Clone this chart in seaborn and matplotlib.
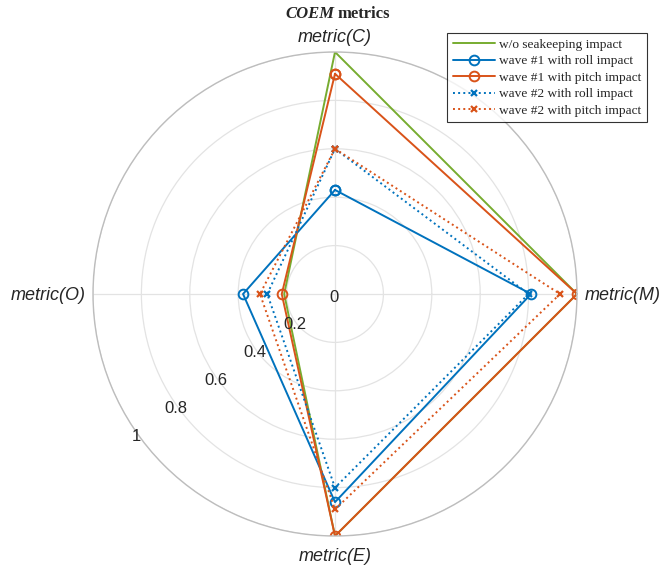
import numpy as np
import pandas as pd
import matplotlib
matplotlib.use("Agg")
import matplotlib.pyplot as plt
import matplotlib.transforms as mtransforms
import seaborn as sns

# ---- data ----
categories = ["metric(C)", "metric(M)", "metric(E)", "metric(O)"]
angles_deg = [90, 0, 270, 180]
series_names = ["w/o seakeeping impact", "wave #1 with roll impact",
                "wave #1 with pitch impact", "wave #2 with roll impact",
                "wave #2 with pitch impact"]
wo_seakeeping = [1.00, 1.00, 1.00, 0.21]
wave1_roll = [0.43, 0.81, 0.86, 0.38]
wave1_pitch = [0.91, 1.00, 1.00, 0.22]
wave2_roll = [0.60, 0.80, 0.80, 0.28]
wave2_pitch = [0.60, 0.93, 0.89, 0.31]
r_ticks = [0, 0.2, 0.4, 0.6, 0.8, 1.0]
r_tick_labels = ["0", "0.2", "0.4", "0.6", "0.8", "1"]

values = [wo_seakeeping, wave1_roll, wave1_pitch, wave2_roll, wave2_pitch]
colors = ["#77AC30", "#0072BD", "#D95319", "#0072BD", "#D95319"]
lstyles = ["-", "-", "-", ":", ":"]
markers = [None, "o", "o", "x", "x"]

sns.set_style("white")
plt.rcParams["font.family"] = ["Liberation Sans", "DejaVu Sans"]

fig = plt.figure(figsize=(6.6, 5.71), dpi=100)
cx, cy, R = 335, 294, 242
W, H = 660, 571
ax = fig.add_axes([(cx - R) / W, (H - cy - R) / H, 2 * R / W, 2 * R / H],
                  projection="polar")

rows = []
for name, vals in zip(series_names, values):
    th = [np.deg2rad(a) for a in angles_deg] + [np.deg2rad(angles_deg[0])]
    vv = list(vals) + [vals[0]]
    for i, (t, v) in enumerate(zip(th, vv)):
        rows.append({"series": name, "theta": t, "r": v, "order": i})
df = pd.DataFrame(rows)

for name, c, ls, mk in zip(series_names, colors, lstyles, markers):
    sub = df[df["series"] == name]
    kw = dict(color=c, linestyle=ls, linewidth=1.4, label=name)
    if mk == "o":
        kw.update(marker="o", markersize=7, markerfacecolor="none",
                  markeredgecolor=c, markeredgewidth=1.4)
    elif mk == "x":
        kw.update(marker="x", markersize=5, markeredgewidth=1.6,
                  markeredgecolor=c)
    sns.lineplot(data=sub, x="theta", y="r", sort=False, ax=ax,
                 estimator=None, **kw)

ax.set_ylim(0, 1.0)
ax.set_yticks(r_ticks)
ax.set_yticklabels([])
# radial tick labels placed along the 215 degree direction
label_off = mtransforms.ScaledTranslation(-1 / 100, -3 / 100, fig.dpi_scale_trans)
for r, lab in zip(r_ticks, r_tick_labels):
    ax.text(np.deg2rad(215.3), r, lab, ha="center", va="center", fontsize=12,
            color="#262626", transform=ax.transData + label_off)

# angular category labels just outside the outer circle
ax.set_xticks([np.deg2rad(a) for a in angles_deg])
ax.set_xticklabels([])
place = {"metric(C)": ("center", "bottom", 0, 6),
         "metric(M)": ("left", "center", 8, -2),
         "metric(E)": ("center", "top", 0, -12),
         "metric(O)": ("right", "center", -7, -2)}
for cat, a in zip(categories, angles_deg):
    ha, va, dx, dy = place[cat]
    off = mtransforms.ScaledTranslation(dx / 100, dy / 100, fig.dpi_scale_trans)
    ax.text(np.deg2rad(a), 1.0, cat, ha=ha, va=va, fontsize=13,
            style="italic", color="#262626", transform=ax.transData + off)

ax.set_xlabel("")
ax.set_ylabel("")
ax.grid(True, color="#e3e3e3", linewidth=0.9)
ax.spines["polar"].set_color("#bdbdbd")
ax.spines["polar"].set_linewidth(1.0)

leg = ax.legend(loc="upper right", bbox_to_anchor=(647 / W, 1 - 33 / H),
                bbox_transform=fig.transFigure, frameon=True, fancybox=False,
                edgecolor="black", borderaxespad=0,
                prop={"family": "Liberation Serif", "size": 9.6},
                handlelength=3.2, handletextpad=0.3, borderpad=0.4,
                labelspacing=0.32)
leg.get_frame().set_linewidth(0.8)

ty = 1 - 14 / H
fig.text(334 / W, ty, "COEM", ha="right", va="center", fontsize=12,
         family="Liberation Serif", weight="bold", style="italic")
fig.text(338 / W, ty, "metrics", ha="left", va="center", fontsize=12,
         family="Liberation Serif", weight="bold")

fig.savefig("out.png", dpi=100)
